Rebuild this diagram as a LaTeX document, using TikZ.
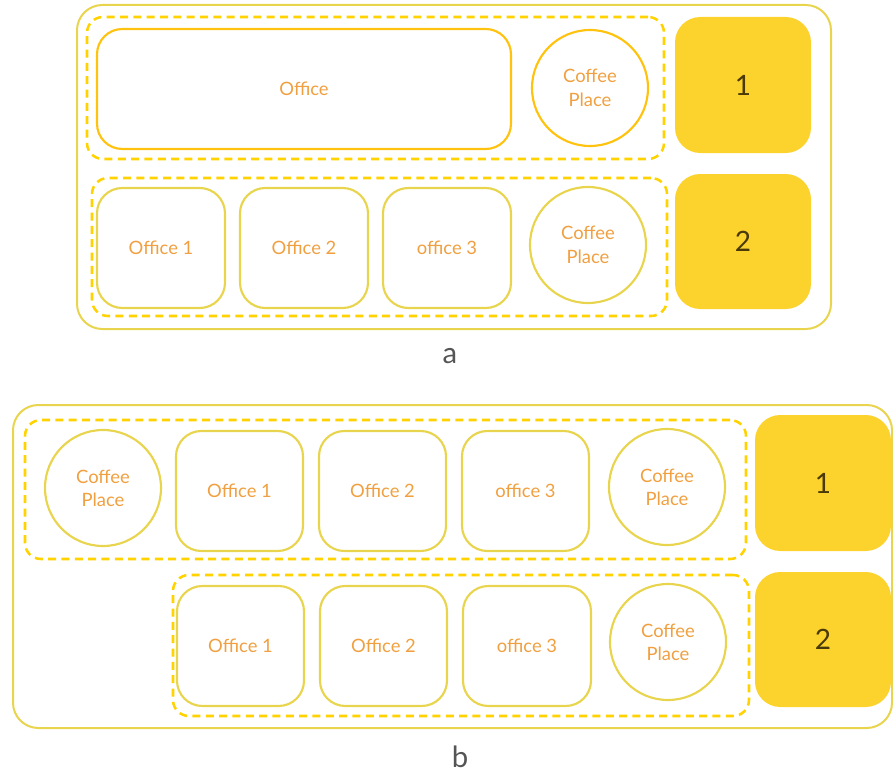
\documentclass[tikz,border=0pt]{standalone}
\usepackage{fontspec}
\setmainfont{Lato}
\usetikzlibrary{fit}
\definecolor{frameY}{HTML}{E8D44D}
\definecolor{dashY}{HTML}{FFD200}
\definecolor{strongY}{HTML}{FFC20E}
\definecolor{txtO}{HTML}{F0A040}
\definecolor{fillY}{HTML}{FCD22C}
\definecolor{numC}{HTML}{4A3A0A}
\definecolor{lblC}{HTML}{555555}
\begin{document}
\begin{tikzpicture}[x=0.75pt,y=-0.75pt,
 frame/.style={draw=frameY, line width=1.5pt, rounded corners=19pt, inner sep=0pt},
 group/.style={draw=dashY, line width=1.9pt, dash pattern=on 6pt off 4pt, rounded corners=12pt, inner sep=0pt},
 rtxt/.style={text=txtO, font=\fontsize{13.8}{17}\selectfont, inner sep=0pt},
 room/.style={draw=frameY, line width=1.6pt, rounded corners=19pt, inner sep=0pt, label={[rtxt]center:#1}},
 bigroom/.style={room=#1, draw=strongY},
 coffee/.style={circle, draw=frameY, line width=1.6pt, minimum size=87pt, inner sep=0pt, text=txtO, align=center, font=\fontsize{13.8}{17.5}\selectfont},
 bigcoffee/.style={coffee, draw=strongY},
 ntxt/.style={text=numC, font=\fontsize{21}{24}\selectfont, inner sep=0pt},
 num/.style={fill=fillY, rounded corners=19pt, inner sep=0pt, label={[ntxt]center:#1}},
 caption/.style={text=lblC, font=\fontsize{22}{24}\selectfont}]
\useasboundingbox (0,0) rectangle (893,774);
% ---- part a ----
\node[frame, fit={(77,5) (831,329)}] (aframe) {};
\node[group, fit={(87,17) (664,159)}] (ag1) {};
\node[bigroom=Office, fit={(97,29) (511,149)}] (aoff) {};
\node[bigcoffee] (acp1) at (590,88) {Coffee\\Place};
\node[num=1, fit={(675,17) (811,153)}] (an1) {};
\node[group, fit={(92,178) (667,316)}] (ag2) {};
\node[room=Office 1, fit={(97,188) (225,308)}] (ao1) {};
\node[room=Office 2, fit={(240,188) (368,308)}] (ao2) {};
\node[room=office 3, fit={(383,188) (511,308)}] (ao3) {};
\node[coffee] (acp2) at (588,245) {Coffee\\Place};
\node[num=2, fit={(675,174) (811,309)}] (an2) {};
\node[caption] (alabel) at (450,356) {a};
% ---- part b ----
\node[frame, fit={(13,405) (892,728)}] (bframe) {};
\node[group, fit={(25,420) (746,559)}] (bg1) {};
\node[coffee] (bcp0) at (103,488) {Coffee\\Place};
\node[room=Office 1, fit={(176,431) (303,551)}] (bo1) {};
\node[room=Office 2, fit={(319,431) (446,551)}] (bo2) {};
\node[room=office 3, fit={(462,431) (589,551)}] (bo3) {};
\node[coffee] (bcp1) at (667,487) {Coffee\\Place};
\node[num=1, fit={(755,415) (891,551)}] (bn1) {};
\node[group, fit={(173,575) (749,716)}] (bg2) {};
\node[room=Office 1, fit={(177,586) (304,706)}] (bo4) {};
\node[room=Office 2, fit={(320,586) (447,706)}] (bo5) {};
\node[room=office 3, fit={(463,586) (591,706)}] (bo6) {};
\node[coffee] (bcp2) at (668,642) {Coffee\\Place};
\node[num=2, fit={(755,572) (891,707)}] (bn2) {};
\node[caption] (blabel) at (460,757) {b};
\end{tikzpicture}
\end{document}
